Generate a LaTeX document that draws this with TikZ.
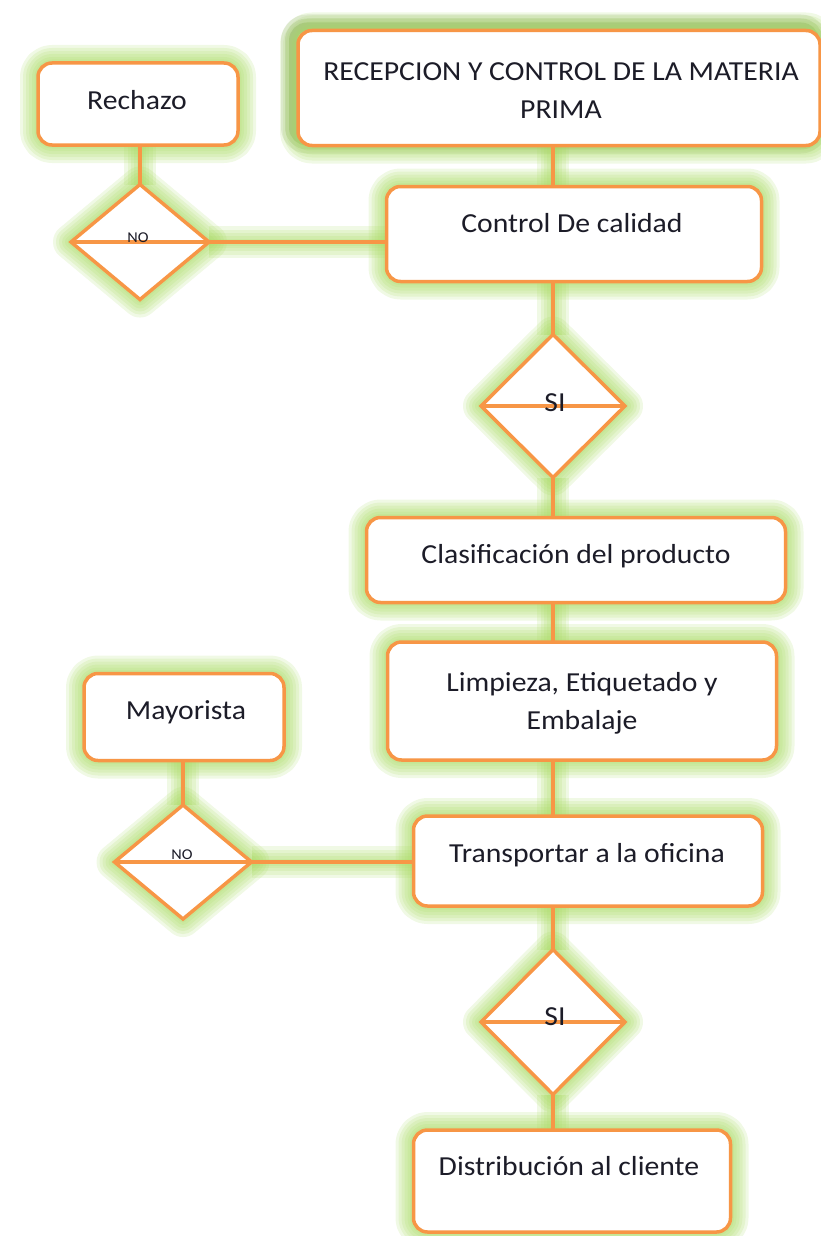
\documentclass[tikz,border=0pt]{standalone}
\usepackage{fontspec}
\setmainfont{Carlito}[FakeStretch=1.08]
\usetikzlibrary{shapes.geometric, backgrounds}
\definecolor{myorange}{RGB}{247, 150, 70}
\definecolor{myglow}{RGB}{168, 218, 98}
\definecolor{mydarkglow}{RGB}{96, 128, 58}
\definecolor{mytext}{RGB}{28, 28, 40}

\tikzset{
	glowpass/.style={draw=myglow, line width=#1, opacity=0.17, line join=round},
	halo/.style={glowpass=7pt,
		preaction={glowpass=36pt},
		preaction={glowpass=30pt},
		preaction={glowpass=24pt},
		preaction={glowpass=18pt},
		preaction={glowpass=12pt}},
	darkhalo/.style={draw=mydarkglow, line width=8pt, opacity=0.3, line join=round,
		preaction={draw=mydarkglow, line width=24pt, opacity=0.15, line join=round},
		preaction={draw=mydarkglow, line width=16pt, opacity=0.2, line join=round}},
	box/.style={draw=myorange, line width=3.5pt, fill=white, rounded corners=14pt, inner sep=0pt, outer sep=0pt},
	decision/.style={diamond, draw=myorange, line width=3.5pt, fill=white, inner sep=0pt, outer sep=0pt},
	link/.style={draw=myorange, line width=3.5pt,
		preaction={glowpass=32pt},
		preaction={glowpass=25pt},
		preaction={glowpass=18pt},
		preaction={glowpass=12pt},
		preaction={glowpass=7pt}},
	txt/.style={text=mytext, font=\fontsize{27.5}{38}\selectfont, align=center},
	tiny/.style={text=mytext, font=\fontsize{15}{16}\selectfont}
}

\begin{document}
\begin{tikzpicture}[x=1pt, y=-1pt]
	
	\useasboundingbox (0,0) rectangle (821,1236);
	
	% process boxes
	\node[box, minimum width=522pt, minimum height=115pt] (recepcion) at (559,88) {};
	\node[box, minimum width=200pt, minimum height=82pt] (rechazo) at (138,104) {};
	\node[box, minimum width=375pt, minimum height=95pt] (control) at (574,234) {};
	\node[box, minimum width=419pt, minimum height=85pt] (clasif) at (576,560) {};
	\node[box, minimum width=389pt, minimum height=118pt] (limpieza) at (582,701) {};
	\node[box, minimum width=200pt, minimum height=87pt] (mayorista) at (184,717) {};
	\node[box, minimum width=349pt, minimum height=90pt] (transp) at (588,861) {};
	\node[box, minimum width=317pt, minimum height=102pt] (distrib) at (572,1181) {};
	
	% decisions
	\node[decision, minimum width=138pt, minimum height=115pt] (no1) at (140,242) {};
	\node[decision, minimum width=144pt, minimum height=143pt] (si1) at (553,406) {};
	\node[decision, minimum width=137pt, minimum height=114pt] (no2) at (183,862) {};
	\node[decision, minimum width=144pt, minimum height=145pt] (si2) at (553,1022) {};
	\foreach \d in {no1, si1, no2, si2}{
		\draw[myorange, line width=3.5pt] (\d.west) -- (\d.east);
	}
	
	\begin{scope}[on background layer]
	% glow round the shapes
	\draw[darkhalo, rounded corners=14pt] ([xshift=-5pt, yshift=4pt]recepcion.south west) rectangle ([xshift=-5pt, yshift=4pt]recepcion.north east);
	\foreach \b in {recepcion, rechazo, control, clasif, limpieza, mayorista, transp, distrib}{
		\draw[halo, rounded corners=14pt] (\b.south west) rectangle (\b.north east);
	}
	\foreach \d in {no1, si1, no2, si2}{
		\draw[halo] (\d.north) -- (\d.east) -- (\d.south) -- (\d.west) -- cycle;
	}
	
	% connectors
	\draw[link] (recepcion.south -| si1.north) -- (control.north -| si1.north);
	\draw[link] (control.south -| si1.north) -- (si1.north);
	\draw[link] (si1.south) -- (clasif.north -| si1.south);
	\draw[link] (clasif.south -| si1.south) -- (limpieza.north -| si1.south);
	\draw[link] (limpieza.south -| si2.north) -- (transp.north -| si2.north);
	\draw[link] (transp.south -| si2.north) -- (si2.north);
	\draw[link] (si2.south) -- (distrib.north -| si2.south);
	\draw[link] (rechazo.south -| no1.north) -- (no1.north);
	\draw[link] (no1.east) -- (no1.east -| control.west);
	\draw[link] (mayorista.south -| no2.north) -- (no2.north);
	\draw[link] (no2.east) -- (no2.east -| transp.west);
	\end{scope}
	
	% texts
	\node[txt] (t-recepcion) at (561,91) {RECEPCION Y CONTROL DE LA MATERIA\\PRIMA};
	\node[txt] (t-rechazo) at (137,100) {Rechazo};
	\node[txt] (t-control) at (572,223) {Control De calidad};
	\node[txt] (t-clasif) at (576,556) {Clasificación del producto};
	\node[txt] (t-limpieza) at (582,703) {Limpieza, Etiquetado y\\Embalaje};
	\node[txt] (t-mayorista) at (186,712) {Mayorista};
	\node[txt] (t-transp) at (587,855) {Transportar a la oficina};
	\node[txt] (t-distrib) at (569,1166) {Distribución al cliente};
	\node[txt] (t-si1) at (555,403) {SI};
	\node[txt] (t-si2) at (555,1017) {SI};
	\node[tiny] (t-no1) at (138,238) {NO};
	\node[tiny] (t-no2) at (182,855) {NO};
	
\end{tikzpicture}
\end{document}
